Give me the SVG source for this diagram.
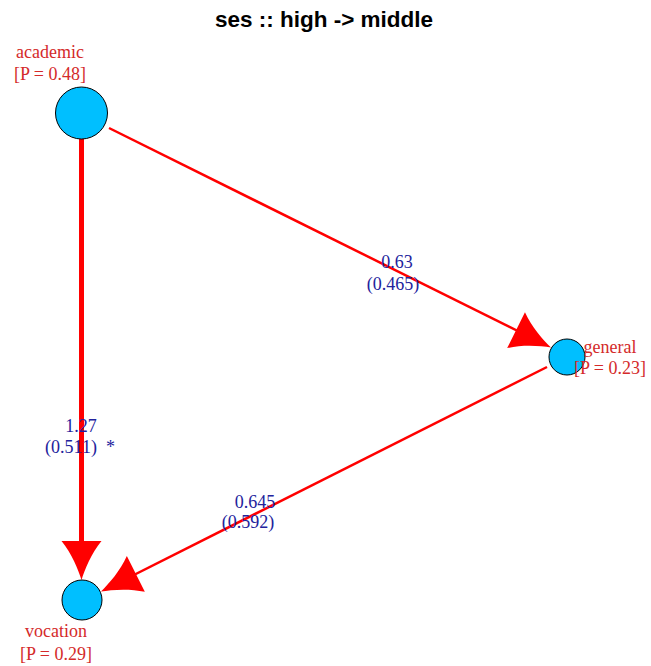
<svg xmlns="http://www.w3.org/2000/svg" width="651" height="666" viewBox="0 0 651 666">
<style>
.title{font-family:"Liberation Sans",Arial,sans-serif;font-weight:bold;font-size:22px;fill:#000;text-anchor:middle}
.nl{font-family:"Liberation Serif","Times New Roman",serif;font-size:18px;fill:#d42a2a;text-anchor:middle}
.el{font-family:"Liberation Serif","Times New Roman",serif;font-size:18px;fill:#22229c;text-anchor:middle}
.node{fill:#00bfff;stroke:#000;stroke-width:1}
.edge{stroke:#ff0000;fill:none}
.head{fill:#ff0000;stroke:none}
</style>
<defs>
<path id="ah" d="M0,0 C-10,-3 -27,-10 -39,-20 L-39,20 C-27,10 -10,3 0,0 Z"/>
</defs>
<rect width="651" height="666" fill="#fff"/>
<text class="title" x="324" y="27" textLength="218" lengthAdjust="spacingAndGlyphs">ses :: high -&gt; middle</text>
<g id="edges">
<line class="edge" x1="81.5" y1="139" x2="81.5" y2="565" stroke-width="5"/>
<use href="#ah" class="head" transform="translate(81.5,580) rotate(90)"/>
<line class="edge" x1="109" y1="128" x2="540" y2="342" stroke-width="2.5"/>
<use href="#ah" class="head" transform="translate(551,347.5) rotate(26.4)"/>
<line class="edge" x1="547" y1="367" x2="115" y2="584.5" stroke-width="2.5"/>
<use href="#ah" class="head" transform="translate(101,591.5) rotate(153.3)"/>
</g>
<g id="academic">
<circle class="node" cx="81.5" cy="113" r="26"/>
<text class="nl" x="50" y="58">academic</text>
<text class="nl" x="50" y="80">[P = 0.48]</text>
</g>
<g id="general">
<circle class="node" cx="567" cy="357" r="18"/>
<text class="nl" x="610" y="353">general</text>
<text class="nl" x="610" y="374">[P = 0.23]</text>
</g>
<g id="vocation">
<circle class="node" cx="82" cy="600" r="20"/>
<text class="nl" x="56" y="637">vocation</text>
<text class="nl" x="56" y="660">[P = 0.29]</text>
</g>
<g id="edge-labels">
<text class="el" x="397" y="268">0.63</text>
<text class="el" x="393" y="290">(0.465)</text>
<text class="el" x="255" y="508">0.645</text>
<text class="el" x="248" y="528">(0.592)</text>
<text class="el" x="81" y="432">1.27</text>
<text class="el" x="80" y="453" xml:space="preserve">(0.511)  *</text>
</g>
</svg>
